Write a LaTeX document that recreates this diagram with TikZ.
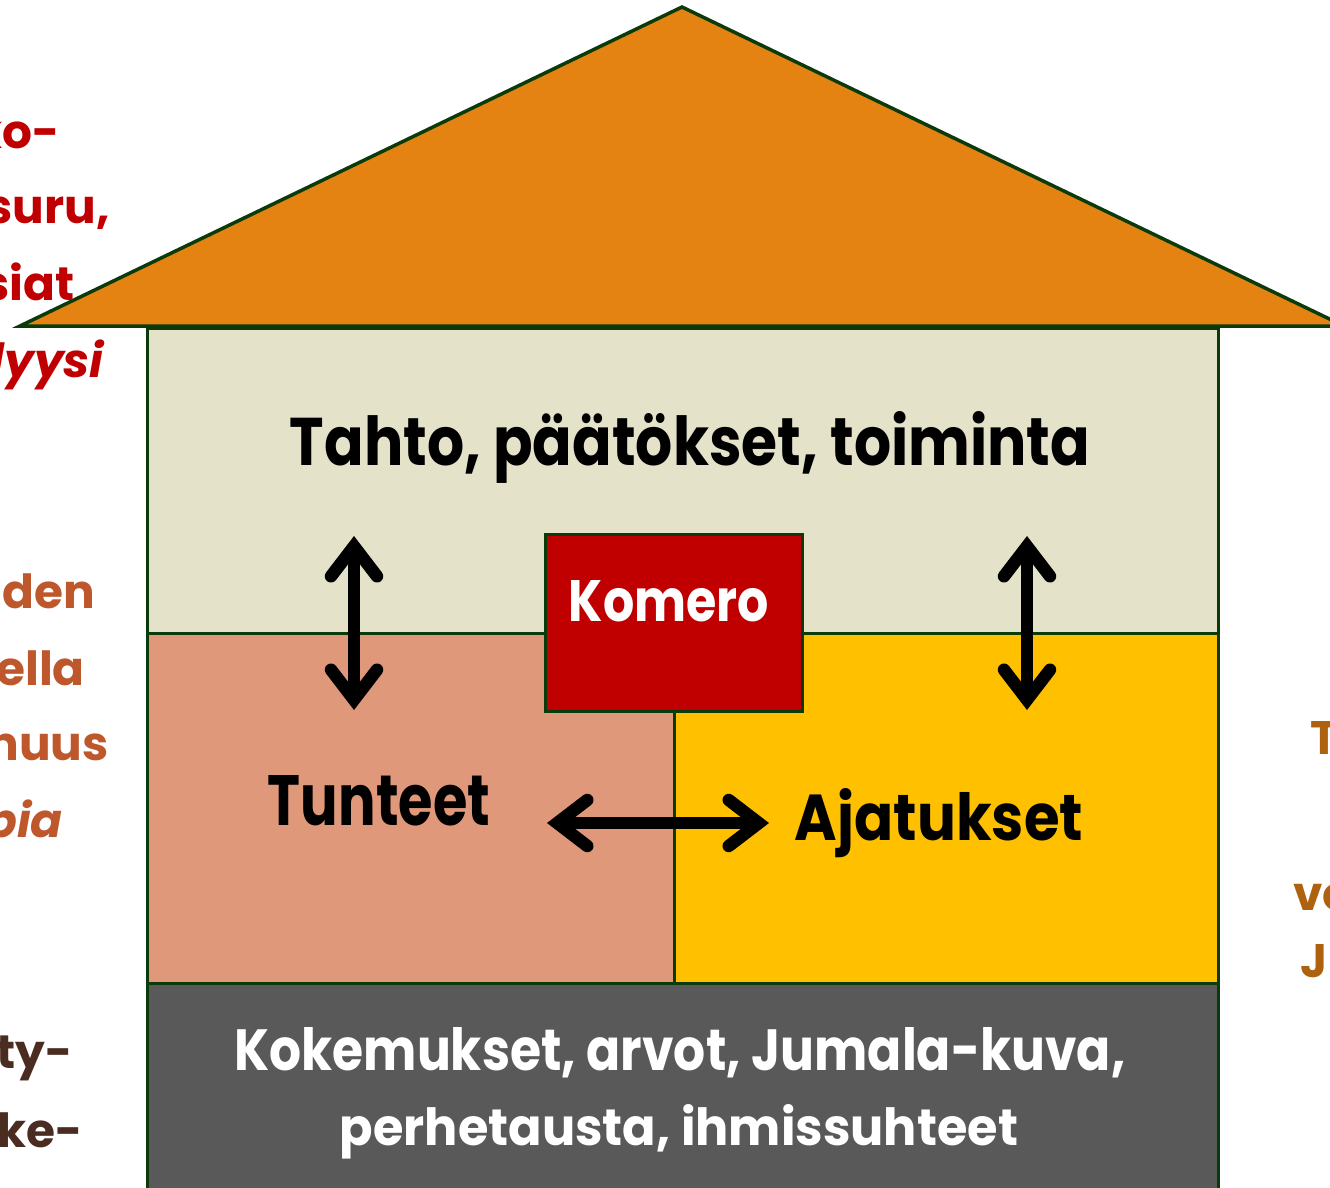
\documentclass[tikz,border=0pt]{standalone}
\usepackage{fontspec}
\setmainfont{Poppins}
\usetikzlibrary{arrows.meta}
\definecolor{roofc}{HTML}{E48312}
\definecolor{edgec}{HTML}{0B3B0B}
\definecolor{creamc}{HTML}{E5E2CA}
\definecolor{salmonc}{HTML}{E0987A}
\definecolor{goldc}{HTML}{FFC000}
\definecolor{komeroc}{HTML}{C00000}
\definecolor{slatec}{HTML}{595959}
\definecolor{sidered}{HTML}{C00000}
\definecolor{sidebrown}{HTML}{BE582C}
\definecolor{sidedark}{HTML}{4A2C20}
\definecolor{sideorange}{HTML}{AE6210}
\newcommand{\fitto}[3]{\resizebox{#1}{#2}{#3}}
\tikzset{
  region/.style={draw=edgec, line width=3pt, inner sep=0pt, outer sep=0pt},
  lbl/.style={inner sep=0pt, anchor=base, font=\bfseries},
  sidel/.style={inner sep=0pt, anchor=base east, font=\fontsize{47}{50}\selectfont\bfseries},
  sider/.style={inner sep=0pt, anchor=base west, font=\fontsize{47}{50}\selectfont\bfseries, text=sideorange},
  dblarrow/.style={line width=12.5pt, <->, >={Straight Barb[length=30pt,width=46pt,line cap=round,line join=miter]}}
}
\begin{document}
\begin{tikzpicture}[x=1pt,y=-1pt]
\useasboundingbox (0,0) rectangle (1330,1188);
\clip (0,0) rectangle (1330,1188);
% roof
\coordinate (apex) at (682,7);
\coordinate (eaveR) at (1344,326);
\coordinate (eaveL) at (20,326);
\draw[fill=roofc, draw=edgec, line width=3.5pt, line join=miter] (apex) -- (eaveR) -- (eaveL) -- cycle;
% rooms
\node[region, fill=creamc, minimum width=1071pt, minimum height=305pt] (top) at (682.5,480.5) {};
\node[region, fill=salmonc, minimum width=527pt, minimum height=350pt] (feel) at (410.5,808) {};
\node[region, fill=goldc, minimum width=544pt, minimum height=350pt] (think) at (946,808) {};
\node[region, fill=slatec, minimum width=1071pt, minimum height=257pt] (base) at (682.5,1111.5) {};
\node[region, fill=komeroc, minimum width=257pt, minimum height=177pt] (kom) at (673.5,622.5) {};
% labels
\node[lbl] (tahto) at (690,465) {\fitto{800pt}{54pt}{Tahto, päätökset, toiminta}};
\node[lbl, text=white] (komt) at (669,621) {\fitto{200pt}{41pt}{Komero}};
\node[lbl] (tunt) at (379,825) {\fitto{222pt}{50pt}{Tunteet}};
\node[lbl] (ajat) at (939,840) {\fitto{288pt}{52pt}{Ajatukset}};
\node[lbl, text=white] (bl1) at (680,1070) {\fitto{891pt}{43pt}{Kokemukset, arvot, Jumala-kuva,}};
\node[lbl, text=white] (bl2) at (679,1145) {\fitto{678pt}{41pt}{perhetausta, ihmissuhteet}};
% arrows
\coordinate (la1) at (354,536);
\coordinate (la2) at (354,710);
\coordinate (ra1) at (1027,536);
\coordinate (ra2) at (1027,710);
\coordinate (ha1) at (547,823);
\coordinate (ha2) at (769,823);
\draw[dblarrow] (la1) -- (la2);
\draw[dblarrow] (ra1) -- (ra2);
\draw[dblarrow] (ha1) -- (ha2);
% side texts (cropped at the edges)
\node[sidel, text=sidered] (s1) at (60,148) {ko-};
\node[sidel, text=sidered] (s2) at (110,223) {suru,};
\node[sidel, text=sidered] (s3) at (75,300) {siat};
\node[sidel, text=sidered] (s4) at (104,377) {\itshape lyysi};
\node[sidel, text=sidebrown] (s5) at (95,608) {den};
\node[sidel, text=sidebrown] (s6) at (85,685) {ella};
\node[sidel, text=sidebrown] (s7) at (109,760) {nuus};
\node[sidel, text=sidebrown] (s8) at (63,837) {\itshape bia};
\node[sidel, text=sidedark] (s9) at (73,1068) {ty-};
\node[sidel, text=sidedark] (s10) at (83,1147) {ke-};
\node[sider] (r1) at (1310,754) {T};
\node[sider] (r2) at (1293,910) {vo};
\node[sider] (r3) at (1300,977) {J};
\end{tikzpicture}
\end{document}
